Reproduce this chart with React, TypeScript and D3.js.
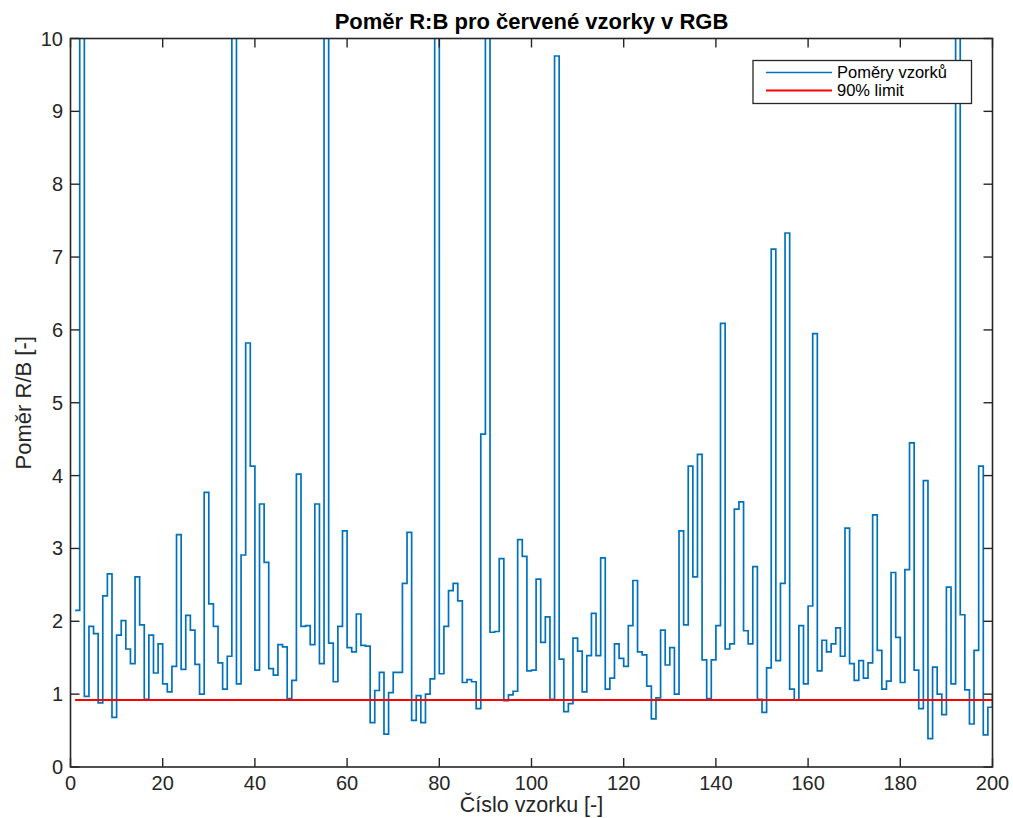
import React from "react";
import * as d3 from "d3";

// Poměry vzorků (R:B), samples 1..200 (spikes above 10 are clipped by the axes)
const ratios: number[] = [
  2.15, 12.0, 0.97, 1.93, 1.83, 0.88, 2.35, 2.65, 0.68, 1.81,
  2.01, 1.62, 1.42, 2.61, 1.95, 0.93, 1.81, 1.29, 1.69, 1.14,
  1.03, 1.38, 3.19, 1.34, 2.08, 1.88, 1.41, 1.0, 3.77, 2.24,
  1.93, 1.43, 1.07, 1.52, 12.0, 1.14, 2.91, 5.82, 4.13, 1.33,
  3.61, 2.81, 1.35, 1.26, 1.68, 1.65, 0.94, 1.19, 4.02, 1.93,
  1.94, 1.68, 3.61, 1.42, 12.0, 1.7, 1.17, 1.93, 3.24, 1.64,
  1.58, 2.1, 1.67, 1.66, 0.61, 1.05, 1.3, 0.45, 1.02, 1.3,
  1.3, 2.52, 3.22, 0.64, 0.98, 0.61, 1.0, 1.21, 12.0, 1.28,
  1.93, 2.42, 2.52, 2.28, 1.16, 1.2, 1.17, 0.8, 4.57, 12.0,
  1.85, 1.86, 2.86, 0.91, 0.99, 1.04, 3.12, 2.89, 1.32, 1.33,
  2.58, 1.71, 2.06, 0.93, 9.76, 1.48, 0.76, 0.87, 1.77, 1.59,
  1.03, 1.53, 2.11, 1.53, 2.87, 1.07, 1.22, 1.69, 1.49, 1.38,
  1.94, 2.56, 1.58, 1.54, 1.11, 0.66, 0.95, 1.88, 1.4, 1.64,
  1.0, 3.24, 1.95, 4.13, 2.61, 4.29, 1.47, 0.94, 1.47, 1.94,
  6.09, 1.62, 1.69, 3.54, 3.64, 1.87, 1.69, 2.75, 0.93, 0.75,
  1.36, 7.11, 1.46, 2.52, 7.33, 1.07, 0.92, 1.94, 1.14, 2.21,
  5.95, 1.32, 1.74, 1.58, 1.69, 1.91, 1.52, 3.28, 1.42, 1.19,
  1.46, 1.22, 1.43, 3.46, 1.6, 1.07, 1.18, 2.67, 1.78, 1.16,
  2.71, 4.45, 1.33, 0.8, 3.93, 0.39, 1.37, 1.0, 0.72, 2.47,
  1.14, 12.0, 2.09, 1.06, 0.59, 1.6, 4.13, 0.44, 0.82, 1.0,
];
const limit90 = 0.92;
const xTicks: number[] = [0, 20, 40, 60, 80, 100, 120, 140, 160, 180, 200];
const yTicks: number[] = [0, 1, 2, 3, 4, 5, 6, 7, 8, 9, 10];
const legendLabels: string[] = ["Poměry vzorků", "90% limit"];
const titleText = "Poměr R:B pro červené vzorky v RGB";
const xLabelText = "Číslo vzorku [-]";
const yLabelText = "Poměr R/B [-]";

const W = 1013;
const H = 818;
const L = 70.5, R = 992.5, T = 38.5, B = 767;
const BLUE = "#0072BD";
const AX = "#262626";
const FONT = "'Liberation Sans', Arial, Helvetica, sans-serif";

export default function App() {
  const x = d3.scaleLinear().domain([0, 200]).range([L, R]);
  const y = d3.scaleLinear().domain([0, 10]).range([B, T]);
  const pts: [number, number][] = ratios.map((v, i) => [i + 1, v]);
  const line = d3
    .line<[number, number]>()
    .x((d) => x(d[0]))
    .y((d) => y(d[1]))
    .curve(d3.curveStepAfter);
  const stairs = line(pts) || "";
  const limitPath = d3.line<[number, number]>().x((d) => x(d[0])).y((d) => y(d[1]))([
    [1, limit90],
    [ratios.length, limit90],
  ]) || "";
  const tl = 9;
  return (
    <svg
      width={W}
      height={H}
      style={{ position: "absolute", left: 0, top: 0, background: "#fff" }}
      fontFamily={FONT}
    >
      <defs>
        <clipPath id="plotclip">
          <rect x={L} y={T} width={R - L} height={B - T} />
        </clipPath>
      </defs>
      <rect x={0} y={0} width={W} height={H} fill="#fff" />
      <g clipPath="url(#plotclip)">
        <path d={stairs} fill="none" stroke={BLUE} strokeWidth={1.7} />
        <path d={limitPath} fill="none" stroke="#ff0000" strokeWidth={2} />
      </g>
      {/* ticks */}
      <g stroke={AX} strokeWidth={1.4}>
        {xTicks.map((t) => (
          <g key={"xt" + t}>
            <line x1={x(t)} x2={x(t)} y1={B} y2={B - tl} />
            <line x1={x(t)} x2={x(t)} y1={T} y2={T + tl} />
          </g>
        ))}
        {yTicks.map((t) => (
          <g key={"yt" + t}>
            <line x1={L} x2={L + tl} y1={y(t)} y2={y(t)} />
            <line x1={R} x2={R - tl} y1={y(t)} y2={y(t)} />
          </g>
        ))}
      </g>
      <rect x={L} y={T} width={R - L} height={B - T} fill="none" stroke={AX} strokeWidth={1.6} />
      {/* tick labels */}
      <g fill={AX} fontSize={20}>
        {xTicks.map((t) => (
          <text key={"xl" + t} x={x(t)} y={790} textAnchor="middle">
            {t}
          </text>
        ))}
        {yTicks.map((t) => (
          <text key={"yl" + t} x={63} y={y(t) + 7} textAnchor="end">
            {t}
          </text>
        ))}
      </g>
      <text x={(L + R) / 2} y={29} textAnchor="middle" fontSize={22} fontWeight="bold" fill="#000">
        {titleText}
      </text>
      <text x={(L + R) / 2} y={812} textAnchor="middle" fontSize={21.5} fill={AX}>
        {xLabelText}
      </text>
      <text
        transform={`translate(31,${(T + B) / 2}) rotate(-90)`}
        textAnchor="middle"
        fontSize={22}
        fill={AX}
      >
        {yLabelText}
      </text>
      {/* legend */}
      <g>
        <rect x={753} y={60.5} width={218.5} height={43} fill="#fff" stroke={AX} strokeWidth={1.3} />
        {legendLabels.map((lab, i) => {
          const ly = 72.5 + i * 18;
          return (
            <g key={lab}>
              <line x1={766} x2={832} y1={ly} y2={ly} stroke={i === 0 ? BLUE : "#ff0000"} strokeWidth={i === 0 ? 1.7 : 2} />
              <text x={837} y={ly + 5.5} fontSize={16.5} fill="#000">
                {lab}
              </text>
            </g>
          );
        })}
      </g>
    </svg>
  );
}
